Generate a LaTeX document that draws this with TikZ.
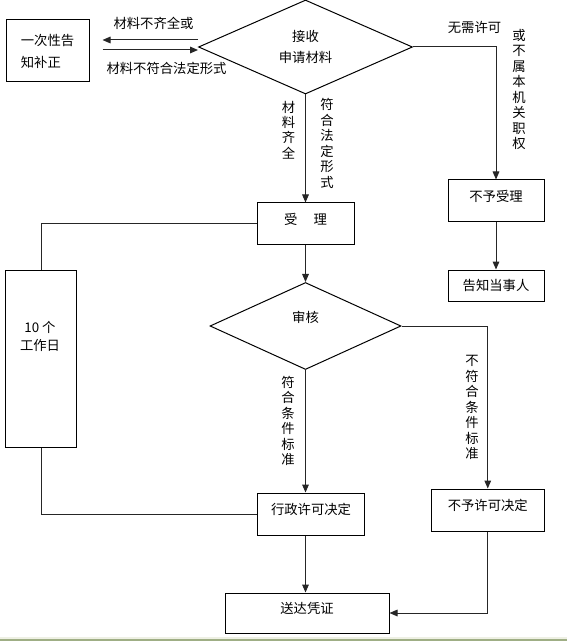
\documentclass[tikz,border=0pt]{standalone}
\usepackage{fontspec}
\setmainfont{Noto Sans CJK SC}
\usetikzlibrary{shapes,arrows.meta,calc}
\usetikzlibrary{positioning}

\begin{document}
\begin{tikzpicture}[x=0.75pt,y=-0.75pt,
			every node/.style = {font=\fontsize{10}{12}\selectfont},
			box/.style = {draw, line width=0.75pt, inner sep=0pt},
			raised/.style = {text height=8pt, text depth=7pt},
			decision/.style = {draw, diamond, line width=0.75pt, inner sep=0pt, aspect=2},
			vlabel/.style = {align=center, inner sep=0pt, font=\fontsize{10}{11.6}\selectfont},
			flow/.style = {line width=0.75pt, color=black!85},
			arr/.style = {flow, -{Triangle[length=6pt,width=5pt]}}]
			\useasboundingbox (0,0) rectangle (567,641);
			% strip at the bottom
			\fill [fill={rgb,255:red,238;green,240;blue,228}] (0,636.5) rectangle (567,638.5);
			\fill [fill={rgb,255:red,159;green,174;blue,133}] (0,638.5) rectangle (567,641);
			% boxes and decisions
			\node (jieshou) [decision, minimum width=160.5pt, minimum height=70.5pt,
			align=center, font=\fontsize{10}{15.75}\selectfont] at (305.5,47) {接收\\申请材料};
			\node (buzheng) [box, minimum width=62.25pt, minimum height=46.5pt,
			align=left, font=\fontsize{10}{16.5}\selectfont] at (47.5,51) {一次性告\\知补正};
			\node (shouli) [box, raised, minimum width=72.75pt, minimum height=31.5pt] at (305.5,224) {受\hspace{12pt}理};
			\node (bushouli) [box, raised, minimum width=72pt, minimum height=31.5pt] at (496,201) {不予受理};
			\node (gaozhi) [box, minimum width=72pt, minimum height=23.25pt] at (496,285.5) {告知当事人};
			\node (shenhe) [decision, text height=8pt, text depth=14pt,
			minimum width=143.25pt, minimum height=65.25pt] at (305.5,326) {审核};
			\node (gongzuori) [box, minimum width=53.25pt, minimum height=132.75pt] at (41,358.5) {};
			\node (gzrtext) [align=center, font=\fontsize{10}{13.5}\selectfont] at (40,336) {10 个\\工作日};
			\node (xuke) [box, raised, minimum width=80.6pt, minimum height=31.5pt] at (311,514) {行政许可决定};
			\node (buxuke) [box, raised, minimum width=84.4pt, minimum height=31.5pt] at (487.75,510) {不予许可决定};
			\node (songda) [box, raised, minimum width=123pt, minimum height=30pt] at (307,613) {送达凭证};
			% labels
			\node (buqi) at (153.5,23) {材料不齐全或};
			\node (bufu) at (166.5,68.5) {材料不符合法定形式};
			\node (qiquan) [vlabel] at (288.5,130) {材\\料\\齐\\全};
			\node (fuhe) [vlabel] at (327,143.5) {符\\合\\法\\定\\形\\式};
			\node (wuxu) at (474.5,27.5) {无需许可};
			\node (zhiquan) [vlabel] at (519,89.5) {或\\不\\属\\本\\机\\关\\职\\权};
			\node (biaozhun) [vlabel] at (288,421) {符\\合\\条\\件\\标\\准};
			\node (bubiaozhun) [vlabel] at (472,407.5) {不\\符\\合\\条\\件\\标\\准};
			% connectors
			\path [arr]
			($(jieshou.west)+(0,-7)$) edge ($(buzheng.east)+(13,-11)$)
			($(buzheng.east)+(13,-1)$) edge ($(jieshou.west)+(0,3)$)
			(jieshou.south) edge (shouli.north)
			(bushouli) edge (gaozhi)
			(shouli) edge (shenhe)
			(shenhe.south) edge (shenhe.south |- xuke.north)
			(shenhe.south |- xuke.south) edge (shenhe.south |- songda.north);
			\draw [arr] (jieshou.east) -| (bushouli.north);
			\draw [arr] (shenhe.east) -| (buxuke.north);
			\draw [arr] (buxuke.south) |- (songda.east);
			\draw [flow] (shouli.west) -| (gongzuori.north);
			\draw [flow] (gongzuori.south) |- (xuke.west);
		\end{tikzpicture}
\end{document}
